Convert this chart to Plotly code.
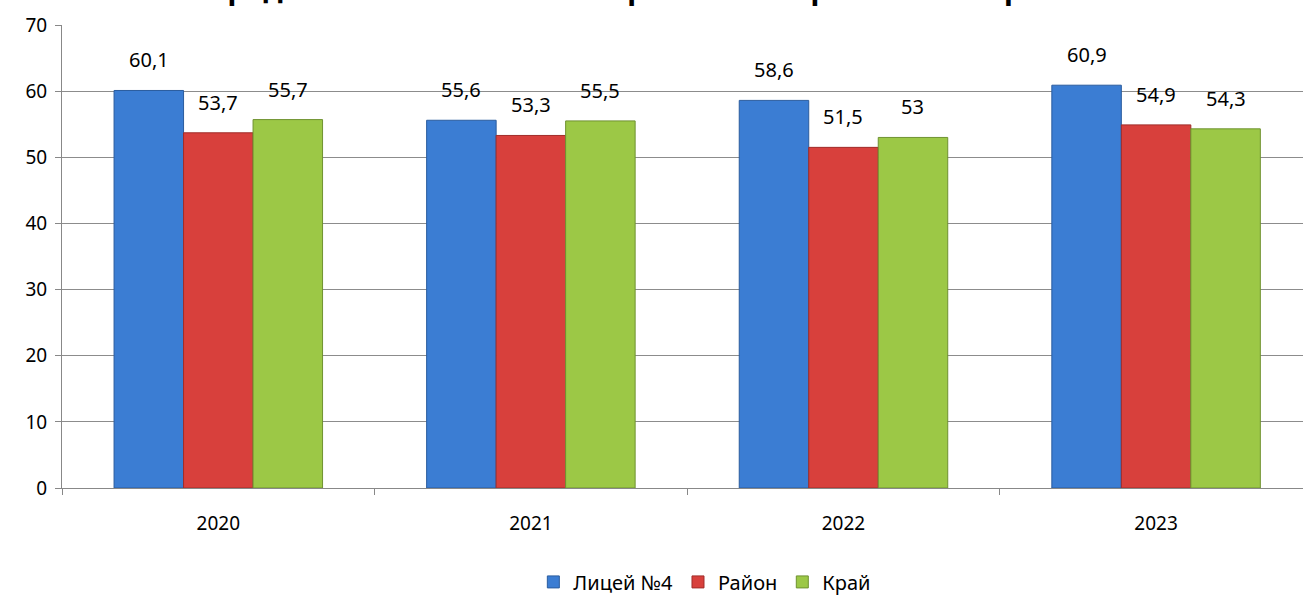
import plotly.graph_objects as go

years = ["2020", "2021", "2022", "2023"]
series_names = ["Лицей №4", "Район", "Край"]
licey = [60.1, 55.6, 58.6, 60.9]
rayon = [53.7, 53.3, 51.5, 54.9]
kray = [55.7, 55.5, 53.0, 54.3]
y_ticks = [0, 10, 20, 30, 40, 50, 60, 70]
title_text = "Средний тестовый балл в сравнении с районом и краем"

colors = ["#3B7DD3", "#D8403C", "#9CC846"]
edge = ["#2A5C9E", "#A02C29", "#6F9230"]

def fmt(v):
    s = ("%.1f" % v).rstrip("0").rstrip(".")
    return s.replace(".", ",")

fig = go.Figure()
for name, vals, c, e in zip(series_names, [licey, rayon, kray], colors, edge):
    fig.add_trace(go.Bar(
        x=years, y=vals, name=name,
        marker=dict(color=c, line=dict(color=e, width=1)),
        textposition="none",
    ))

fig.update_layout(
    barmode="group", bargap=0.333, bargroupgap=0,
    width=1303, height=595,
    margin=dict(l=62, r=0, t=25, b=107, autoexpand=False),
    plot_bgcolor="white", paper_bgcolor="white",
    font=dict(family="Noto Sans, DejaVu Sans, sans-serif", size=19, color="#000"),
    showlegend=True,
    legend=dict(orientation="h", x=0.518, xanchor="center", yref="container",
                y=0.022, yanchor="middle", font=dict(size=20), traceorder="normal",
                itemwidth=30),
    xaxis=dict(range=[-0.5, 3.47], showline=True, linecolor="#888", linewidth=1,
               ticks="outside", tickson="boundaries", ticklen=6, tickcolor="#888",
               ticklabelstandoff=18, showgrid=False, automargin=False),
    yaxis=dict(range=[0, 70], tickvals=y_ticks, showline=True, linecolor="#888",
               linewidth=1, ticks="outside", ticklen=6, tickcolor="#888",
               showgrid=True, gridcolor="#8c8c8c", gridwidth=1, zeroline=False,
               ticklabelstandoff=4, automargin=False),
)

# data labels above bars
grp = 1 - 0.333
for i, vals in enumerate([licey, rayon, kray]):
    off = (i - 1) * grp / 3
    for j, v in enumerate(vals):
        fig.add_annotation(x=j + off, y=v, text=fmt(v), showarrow=False,
                           yanchor="bottom", yshift=15, font=dict(size=20))

fig.add_annotation(xref="paper", yref="paper", x=0.47, y=1, yanchor="bottom",
                   yshift=15, text="<b>" + title_text + "</b>", showarrow=False,
                   font=dict(size=30))

fig.write_html("out.html", config={"displayModeBar": False},
               post_script="document.body.style.margin='0';document.body.style.overflow='hidden';")
